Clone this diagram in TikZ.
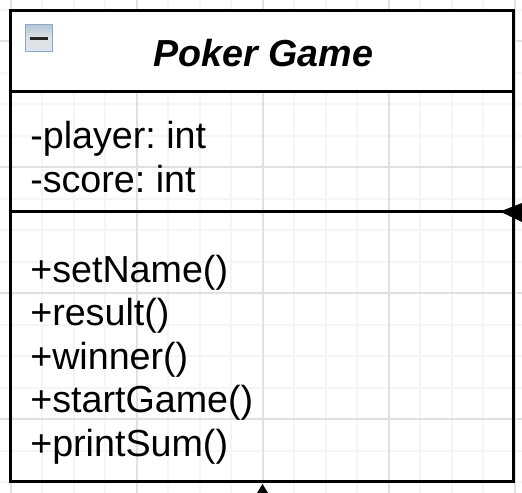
\documentclass[tikz,border=0pt]{standalone}
\usepackage{fontspec}
\setmainfont{Liberation Sans}
\frenchspacing
\usetikzlibrary{positioning,arrows.meta,shapes.geometric}
\tikzset{arista/.style={line width=2.25pt}}
\tikzset{member/.style={anchor=base west,inner sep=0pt,font=\fontsize{28.25}{28.25}\selectfont}}
\tikzset{section/.style={draw=black,line width=2.25pt,inner sep=0pt,outer sep=0pt,minimum width=377.6pt}}
\definecolor{gridmajor}{RGB}{224,224,224}
\definecolor{gridminor}{RGB}{245,245,245}
\definecolor{iconblue}{RGB}{140,170,200}
\begin{document}
\begin{tikzpicture}[x=0.75pt,y=-0.75pt]
    \useasboundingbox (0,0) rectangle (522,493);
    \fill[white] (0,0) rectangle (522,493);
    % grid
    \foreach \i in {0,...,16} {
        \draw[gridminor,line width=1.5pt] (10.5+31.5*\i,0) -- (10.5+31.5*\i,493);
        \draw[gridminor,line width=1.5pt] (0,9.5+31.5*\i) -- (522,9.5+31.5*\i);
    }
    \foreach \i in {0,...,4} {
        \draw[gridmajor,line width=1.5pt] (11+126*\i,0) -- (11+126*\i,493);
    }
    \foreach \i in {0,...,3} {
        \draw[gridmajor,line width=1.5pt] (0,41+126*\i) -- (522,41+126*\i);
    }

    \node[section,anchor=north west,fill=white,minimum height=60.75pt] (head) at (10.5,10) {};
    \node[section,anchor=north west,minimum height=202.9pt] (body) at (10.5,211) {};
    \draw[arista] (head.south west) -- (body.north west);
    \draw[arista] (head.south east) -- (body.north east);

    \node[inner sep=0pt,font=\fontsize{28.25}{28.25}\selectfont\bfseries\itshape] (title) at (263.5,53) {Poker Game};

    \node[member] (player) at (30,148) {-player: int};
    \node[member] (score) at (30,192) {-score: int};
    \node[member] (setname) at (30,282) {+setName()};
    \node[member] (result) at (30,325) {+result()};
    \node[member] (winner) at (30,369) {+winner()};
    \node[member] (startgame) at (30,412) {+startGame()};
    \node[member] (printsum) at (30,456) {+printSum()};

    % collapse icon
    \node[draw=iconblue,line width=0.75pt,inner sep=0pt,minimum size=20pt,top color=iconblue!65,bottom color=iconblue!30,middle color=black!12] (icon) at (39,38) {};
    \draw[line width=2.25pt,black!85] ([xshift=-6.5pt]icon.center) -- ([xshift=6.5pt]icon.center);

    % arrowheads cut by the page edge
    \fill (500,211.5) -- (522,203) -- (522,222) -- cycle;
    \fill (262.5,484) -- (257,493) -- (268,493) -- cycle;
\end{tikzpicture}
\end{document}
